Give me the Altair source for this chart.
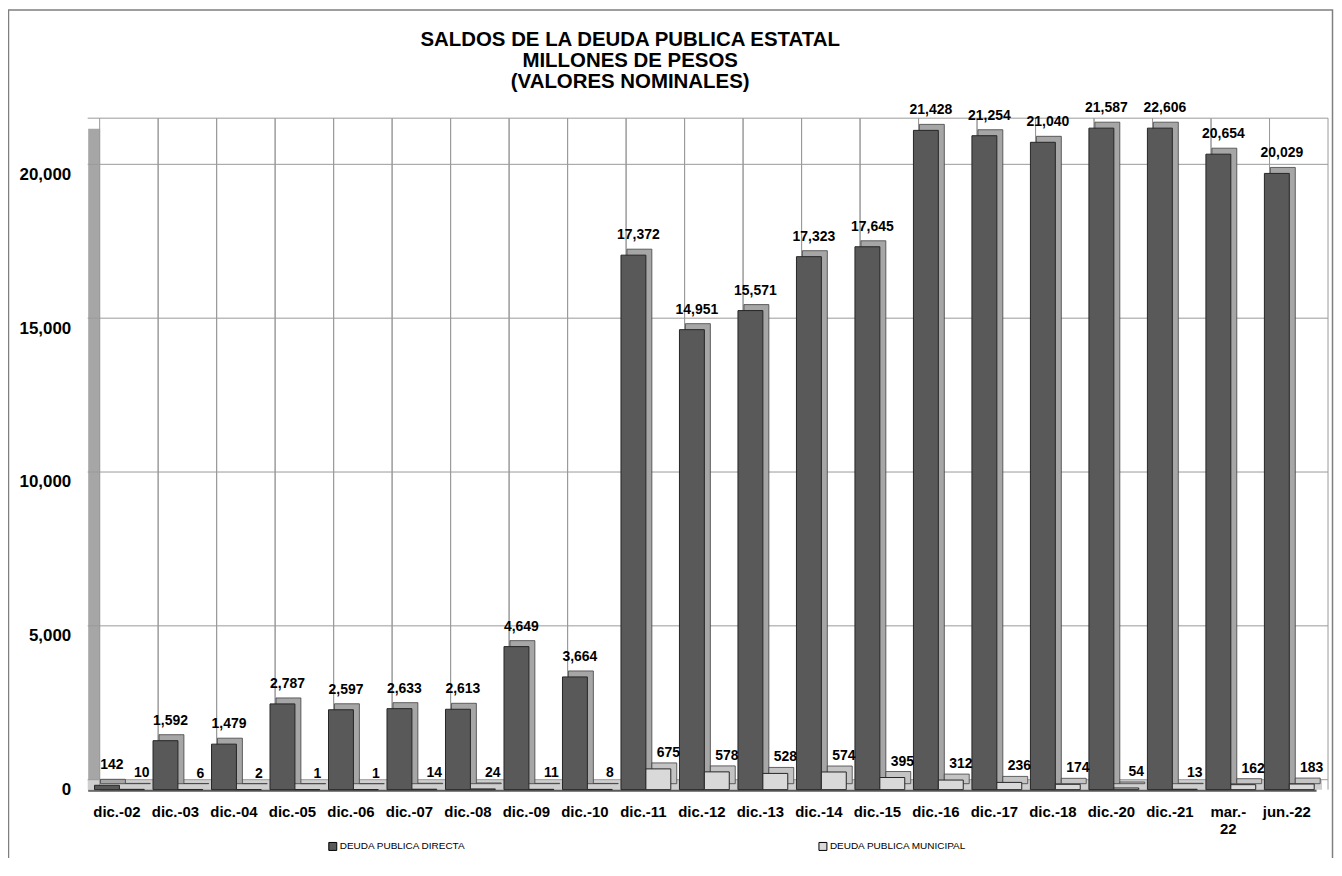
import altair as alt
import pandas as pd

categorias = ["dic.-02", "dic.-03", "dic.-04", "dic.-05", "dic.-06", "dic.-07", "dic.-08",
              "dic.-09", "dic.-10", "dic.-11", "dic.-12", "dic.-13", "dic.-14", "dic.-15",
              "dic.-16", "dic.-17", "dic.-18", "dic.-20", "dic.-21", "mar.-22", "jun.-22"]
deuda_directa = [142, 1592, 1479, 2787, 2597, 2633, 2613, 4649, 3664, 17372, 14951,
                 15571, 17323, 17645, 21428, 21254, 21040, 21587, 22606, 20654, 20029]
deuda_municipal = [10, 6, 2, 1, 1, 14, 24, 11, 8, 675, 578, 528, 574, 395, 312,
                   236, 174, 54, 13, 162, 183]
series = ["DEUDA PUBLICA DIRECTA", "DEUDA PUBLICA MUNICIPAL"]
ticks_y = [0, 5000, 10000, 15000, 20000]
y_max = 21500
titulo = ["SALDOS DE LA DEUDA PUBLICA ESTATAL", "MILLONES DE PESOS", "(VALORES NOMINALES)"]

rows = []
for c, d, m in zip(categorias, deuda_directa, deuda_municipal):
    rows.append({"cat": c, "serie": series[0], "valor": d})
    rows.append({"cat": c, "serie": series[1], "valor": m})
df = pd.DataFrame(rows)

FONT = "Liberation Sans"
GRID = "#9a9a9a"

x_axis = alt.Axis(labelFont=FONT, labelFontWeight="bold", labelFontSize=15, labelColor="black",
                  labelAngle=0, labelPadding=15, ticks=False, tickSize=0,
                  domainColor="#595959", domainWidth=3, grid=False, title=None,
                  labelExpr="datum.value == 'mar.-22' ? ['mar.-', '22'] : datum.value",
                  labelLineHeight=17)
y_axis = alt.Axis(labelFont=FONT, labelFontWeight="bold", labelFontSize=17, labelColor="black",
                  values=ticks_y, format=",.0f", labelPadding=23, ticks=False, tickSize=0,
                  domainColor="#a6a6a6", domainWidth=12, offset=-6, grid=False, title=None)

x_scale = alt.Scale(paddingInner=0, paddingOuter=0)
y_scale = alt.Scale(domain=[0, y_max], nice=False, zero=True)
color_scale = alt.Scale(domain=series, range=["#595959", "#d9d9d9"])

base = alt.Chart(df).transform_calculate(shown=f"min(datum.valor, {y_max})")
x_enc = alt.X("cat:N", sort=categorias, scale=x_scale, axis=x_axis)
y_enc = alt.Y("shown:Q", scale=y_scale, axis=y_axis)

dir_data = base.transform_filter(alt.datum.serie == series[0])
mun_data = base.transform_filter(alt.datum.serie == series[1])

cats_df = pd.DataFrame({"cat": categorias})
vgrid0 = alt.Chart(cats_df).mark_rule(color=GRID, strokeWidth=1, xOffset=12, yOffset=-10).encode(
    x=alt.X("cat:N", sort=categorias, scale=x_scale, axis=x_axis, bandPosition=0))
vgrid1 = alt.Chart(cats_df).mark_rule(color=GRID, strokeWidth=1, xOffset=12, yOffset=-10).encode(
    x=alt.X("cat:N", sort=categorias, scale=x_scale, axis=x_axis, bandPosition=1))

hgrid = alt.Chart(pd.DataFrame({"v": ticks_y + [y_max]})).mark_rule(
    color=GRID, strokeWidth=1, xOffset=12, yOffset=-10).encode(
    y=alt.Y("v:Q", scale=y_scale, axis=y_axis))

floor = alt.Chart(pd.DataFrame({"v": [0]})).mark_rule(
    color="#cfcfcf", strokeWidth=10, xOffset=6, yOffset=-5).encode(
    y=alt.Y("v:Q", scale=y_scale, axis=y_axis))

BW = 25
depth_d = dir_data.mark_bar(width=BW, xOffset=-4, yOffset=-6, color="#a6a6a6",
                            stroke="#404040", strokeWidth=0.8).encode(x=x_enc, y=y_enc)
depth_m = mun_data.mark_bar(width=BW, xOffset=21, yOffset=-6, color="#c4c4c4",
                            stroke="#404040", strokeWidth=0.8).encode(x=x_enc, y=y_enc)

legend = alt.Legend(title=None, orient="none", legendX=241, legendY=716,
                    direction="horizontal", symbolType="square",
                    symbolSize=64, symbolStrokeColor="black",
                    symbolStrokeWidth=1, labelFont=FONT,
                    labelFontSize=10, labelColor="black", labelOffset=2,
                    columnPadding=352, padding=0)

front_d = dir_data.mark_bar(width=BW, xOffset=-10, stroke="#262626", strokeWidth=1).encode(
    x=x_enc, y=y_enc,
    color=alt.Color("serie:N", sort=series, scale=color_scale, legend=legend))
front_m = mun_data.mark_bar(width=BW, xOffset=15, stroke="#262626", strokeWidth=1).encode(
    x=x_enc, y=y_enc,
    color=alt.Color("serie:N", sort=series, scale=color_scale, legend=legend))

lab_d = dir_data.mark_text(
    dx=-5, dy=-13, baseline="bottom", font=FONT, fontSize=14, fontWeight="bold",
    color="black").encode(x=x_enc, y=y_enc, text=alt.Text("valor:Q", format=","))
lab_m = mun_data.mark_text(
    dx=25, dy=-9, baseline="bottom", font=FONT, fontSize=14, fontWeight="bold",
    color="black").encode(x=x_enc, y=y_enc, text=alt.Text("valor:Q", format=","))

border = alt.Chart(pd.DataFrame({"k": [0]})).mark_rect(
    filled=False, stroke="#7f7f7f", strokeWidth=1.5).encode(
    x=alt.value(-79.5), x2=alt.value(1249.5), y=alt.value(-118.5), y2=alt.value(780))

chart = alt.layer(border, floor, vgrid0, vgrid1, hgrid, depth_d, depth_m, front_d, front_m,
                  lab_d, lab_m).properties(
    width=1233, height=664,
    autosize=alt.AutoSizeParams(type="none"),
    padding={"left": 80, "top": 119, "right": 18, "bottom": 67},
    title=alt.TitleParams(text=titulo, font=FONT, fontSize=20.5, fontWeight="bold",
                          color="black", anchor="middle", frame="group", dx=-72,
                          offset=-103, baseline="bottom", lineHeight=21),
).configure_view(strokeWidth=0)

chart.save("out.html", embed_options={"renderer": "svg", "actions": False})
